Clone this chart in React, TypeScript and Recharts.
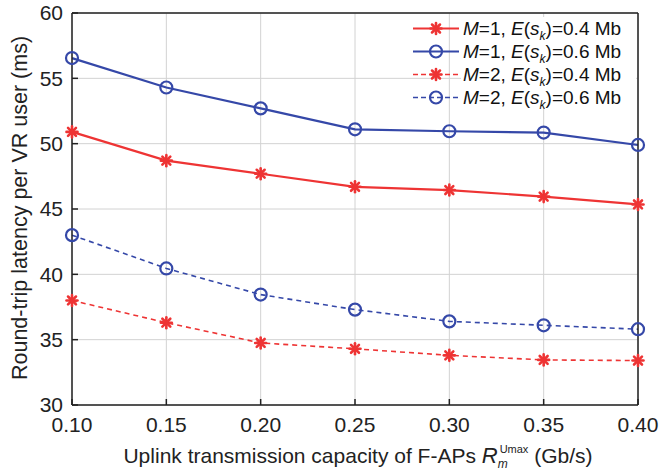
import { CartesianGrid, Line, LineChart, XAxis, YAxis } from "recharts";

const capacity = [0.1, 0.15, 0.2, 0.25, 0.3, 0.35, 0.4];
const m1Small = [50.9, 48.7, 47.7, 46.7, 46.45, 45.95, 45.35];
const m1Large = [56.55, 54.3, 52.7, 51.1, 50.95, 50.85, 49.9];
const m2Small = [38.0, 36.3, 34.75, 34.3, 33.8, 33.45, 33.4];
const m2Large = [43.0, 40.45, 38.45, 37.3, 36.4, 36.1, 35.8];
const yTicks = [30, 35, 40, 45, 50, 55, 60];

const RED = "#ee3434";
const BLUE = "#3548a8";
const FONT = '"Liberation Sans", Arial, sans-serif';

const rows = capacity.map((c, i) => ({
  c,
  m1Small: m1Small[i],
  m1Large: m1Large[i],
  m2Small: m2Small[i],
  m2Large: m2Large[i],
}));

const series = [
  { key: "m1Small", m: 1, size: "0.4", color: RED, dashed: false, marker: "star" },
  { key: "m1Large", m: 1, size: "0.6", color: BLUE, dashed: false, marker: "circle" },
  { key: "m2Small", m: 2, size: "0.4", color: RED, dashed: true, marker: "star" },
  { key: "m2Large", m: 2, size: "0.6", color: BLUE, dashed: true, marker: "circle" },
];

function Marker({ cx, cy, kind, color }: { cx: number; cy: number; kind: string; color: string }) {
  if (cx == null || cy == null) return null;
  if (kind === "circle") {
    return <circle cx={cx} cy={cy} r={6} fill="none" stroke={color} strokeWidth={2.2} />;
  }
  const r = 5.5;
  const d = r * 0.72;
  return (
    <g stroke={color} strokeWidth={2.6} strokeLinecap="round">
      <line x1={cx - r} y1={cy} x2={cx + r} y2={cy} />
      <line x1={cx} y1={cy - r} x2={cx} y2={cy + r} />
      <line x1={cx - d} y1={cy - d} x2={cx + d} y2={cy + d} />
      <line x1={cx - d} y1={cy + d} x2={cx + d} y2={cy - d} />
    </g>
  );
}

function LegendBox() {
  return (
    <div
      style={{
        position: "absolute",
        top: 17,
        left: 411,
        width: 225,
        fontFamily: FONT,
        fontSize: 19,
        color: "#111",
      }}
    >
      {series.map((s) => (
        <div key={s.key} style={{ display: "flex", alignItems: "stretch", height: 23 }}>
          <svg width={50} height={23} style={{ flex: "none" }}>
            <line
              x1={2}
              y1={11.5}
              x2={48}
              y2={11.5}
              stroke={s.color}
              strokeWidth={s.dashed ? 1.6 : 2}
              strokeDasharray={s.dashed ? "5 3" : undefined}
            />
            <Marker cx={25} cy={11.5} kind={s.marker} color={s.color} />
          </svg>
          <div
            style={{
              flex: 1,
              background: "#fff",
              paddingLeft: 2,
              lineHeight: "23px",
              whiteSpace: "nowrap",
            }}
          >
            <i>M</i>={s.m}, <i>E</i>(<i>s</i>
            <sub style={{ fontSize: 12, lineHeight: 0 }}>
              <i>k</i>
            </sub>
            )={s.size} Mb
          </div>
        </div>
      ))}
    </div>
  );
}

export default function App() {
  return (
    <div style={{ position: "relative", width: 659, height: 471 }}>
      <style>{"body{margin:0;background:#fff}"}</style>
      <LineChart width={659} height={471} data={rows} margin={{ top: 12, right: 20, bottom: 6, left: 20 }}>
        <CartesianGrid stroke="#d2d2d2" strokeWidth={1} />
        <XAxis
          dataKey="c"
          type="number"
          domain={[0.1, 0.4]}
          ticks={capacity}
          tickFormatter={(v: number) => v.toFixed(2)}
          height={60}
          tickSize={-6}
          tickMargin={18}
          axisLine={{ stroke: "#222", strokeWidth: 1.5 }}
          tickLine={{ stroke: "#222", strokeWidth: 1.5 }}
          tick={{ fill: "#222", fontSize: 21, fontFamily: FONT }}
          label={{
            content: (p: any) => {
              const vb = p.viewBox;
              return (
                <text
                  x={vb.x + vb.width / 2 + 3}
                  y={vb.y + 58}
                  textAnchor="middle"
                  fill="#222"
                  fontSize={21}
                  fontFamily={FONT}
                >
                  Uplink transmission capacity of F-APs{" "}
                  <tspan fontStyle="italic" fontSize={22}>R</tspan>
                  <tspan fontStyle="italic" fontSize={12} dy={5}>m</tspan>
                  <tspan fontSize={11} dx={-8} dy={-15}>Umax</tspan>
                  <tspan dy={10}> (Gb/s)</tspan>
                </text>
              );
            },
          }}
        />
        <XAxis
          xAxisId="top"
          orientation="top"
          type="number"
          domain={[0.1, 0.4]}
          ticks={capacity}
          height={1}
          tick={false}
          tickSize={-6}
          axisLine={{ stroke: "#222", strokeWidth: 1.5 }}
          tickLine={{ stroke: "#222", strokeWidth: 1.5 }}
        />
        <YAxis
          type="number"
          domain={[30, 60]}
          ticks={yTicks}
          width={52}
          tickSize={-6}
          tickMargin={15}
          axisLine={{ stroke: "#222", strokeWidth: 1.5 }}
          tickLine={{ stroke: "#222", strokeWidth: 1.5 }}
          tick={{ fill: "#222", fontSize: 21, fontFamily: FONT }}
          label={{
            content: (p: any) => {
              const vb = p.viewBox;
              const cy = vb.y + vb.height / 2 - 1;
              return (
                <text
                  x={21}
                  y={cy}
                  transform={`rotate(-90 21 ${cy})`}
                  textAnchor="middle"
                  dominantBaseline="middle"
                  fill="#222"
                  fontSize={21.5}
                  fontFamily={FONT}
                >
                  Round-trip latency per VR user (ms)
                </text>
              );
            },
          }}
        />
        <YAxis
          yAxisId="right"
          orientation="right"
          type="number"
          domain={[30, 60]}
          ticks={yTicks}
          width={1}
          tick={false}
          tickSize={-6}
          axisLine={{ stroke: "#222", strokeWidth: 1.5 }}
          tickLine={{ stroke: "#222", strokeWidth: 1.5 }}
        />
        {series.map((s) => (
          <Line
            key={s.key}
            dataKey={s.key}
            stroke={s.color}
            strokeWidth={s.dashed ? 1.6 : 2.2}
            strokeDasharray={s.dashed ? "5 4" : undefined}
            isAnimationActive={false}
            dot={(p: any) => <Marker key={`${s.key}-${p.index}`} cx={p.cx} cy={p.cy} kind={s.marker} color={s.color} />}
            activeDot={false}
          />
        ))}
      </LineChart>
      <LegendBox />
    </div>
  );
}
